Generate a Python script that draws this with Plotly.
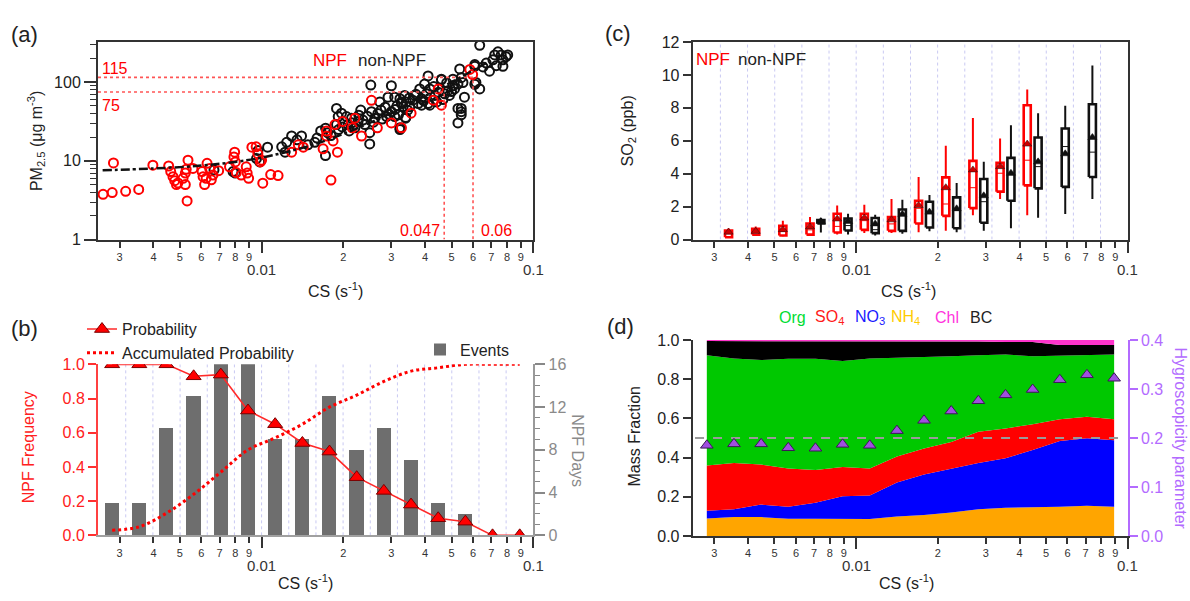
import numpy as np
import plotly.graph_objects as go

FONT = "Liberation Sans, Arial, Helvetica, sans-serif"
W, H = 1190, 601

# ---------------- panel (a): PM2.5 versus condensation sink ----------------
cs_npf = [0.00261, 0.00282, 0.00316, 0.00353, 0.00285, 0.00398, 0.00455, 0.00463, 0.00472,
          0.00479, 0.00486, 0.00492, 0.00524, 0.00532, 0.00514, 0.00524, 0.00528, 0.00536,
          0.00559, 0.00604, 0.00609, 0.00617, 0.00625, 0.0063, 0.00644, 0.00653, 0.00662,
          0.00695, 0.00762, 0.00796, 0.00791, 0.0080, 0.00807, 0.00841, 0.00878, 0.00885,
          0.00896, 0.00921, 0.00955, 0.00969, 0.0101, 0.0099, 0.0100, 0.0108, 0.0115,
          0.0129, 0.01365, 0.01424, 0.01684, 0.01733, 0.01733, 0.01833, 0.01902, 0.0180,
          0.01862, 0.01987, 0.02205, 0.02333, 0.02155, 0.02537, 0.02667, 0.03004, 0.03272,
          0.0355, 0.0428, 0.0447, 0.0459, 0.0584, 0.0598]
pm_npf = [3.76, 3.95, 4.1, 4.33, 9.4, 8.8, 8.6, 7.3, 6.3,
          5.6, 5.0, 5.25, 5.0, 3.1, 6.0, 7.0, 7.8, 10.2,
          8.0, 7.3, 6.3, 5.0, 6.0, 9.3, 8.0, 5.75, 6.6,
          7.5, 8.4, 12.9, 11.2, 9.7, 7.1, 6.6, 8.4, 7.0,
          6.0, 14.9, 15.1, 12.3, 5.2, 9.7, 10.2, 6.7, 6.5,
          12.9, 16.0, 14.9, 14.2, 20.7, 23.9, 17.9, 12.9, 5.7,
          28.9, 31.7, 34.9, 20.7, 26.3, 58.8, 26.3, 30.3, 26.3,
          40.3, 59.0, 82.0, 51.0, 145.0, 125.0]

cs_non = [0.00668, 0.00785, 0.0080, 0.00984, 0.00958, 0.0097, 0.01052, 0.01186, 0.0122,
          0.01237, 0.0129, 0.01403, 0.0157, 0.01718, 0.01748, 0.01887, 0.01914, 0.01887,
          0.01968, 0.02053, 0.02143, 0.0208, 0.02205, 0.02317, 0.02265, 0.02399, 0.025,
          0.025, 0.02523, 0.02537, 0.02611, 0.02723, 0.0275, 0.02884, 0.02919, 0.03004,
          0.03004, 0.0309, 0.03272, 0.0332, 0.0323, 0.0339, 0.041, 0.0459, 0.050,
          0.0506, 0.0528, 0.0543, 0.0543, 0.0536, 0.0551, 0.0609, 0.0609, 0.0635,
          0.0635, 0.0671, 0.069, 0.071, 0.0721, 0.0741, 0.0762, 0.0773, 0.0794,
          0.0773, 0.0805, 0.0653, 0.0731,
          0.0309, 0.0323, 0.0327, 0.0336, 0.0341, 0.0351, 0.036, 0.0366, 0.0377,
          0.0382, 0.0388, 0.0398, 0.0404, 0.0416, 0.0416, 0.0434, 0.0441, 0.0447,
          0.0459, 0.0472, 0.0485, 0.0491, 0.0506, 0.0513, 0.0528, 0.0543, 0.0558,
          0.0528, 0.0543, 0.0609, 0.0615, 0.0323, 0.0339, 0.0319, 0.0388, 0.041,
          0.0135, 0.0148, 0.0160, 0.0165, 0.0172, 0.0180, 0.0192, 0.0198, 0.0210,
          0.0215, 0.0228, 0.0236, 0.0245, 0.0258, 0.0268, 0.0278, 0.0285, 0.0295,
          0.0310, 0.0315, 0.0345, 0.0350, 0.0370, 0.0395, 0.0430, 0.0465, 0.0480]
pm_non = [7.65, 7.3, 7.0, 9.7, 10.7, 13.5, 14.9, 15.1, 12.9,
          17.2, 20.7, 20.7, 17.2, 11.7, 22.8, 46.4, 36.5, 28.9,
          40.3, 36.5, 34.9, 28.9, 26.3, 44.2, 31.7, 28.9, 16.4,
          22.8, 91.8, 42.2, 34.9, 56.0, 44.2, 36.5, 64.5, 42.2,
          90.0, 36.5, 56.0, 48.6, 25.0, 35.6, 120.0, 107.0, 76.0,
          90.0, 30.3, 46.4, 38.4, 147.0, 99.0, 167.0, 94.0, 82.0,
          294.0, 175.0, 138.0, 192.0, 222.0, 243.0, 222.0, 192.0, 211.0,
          159.0, 222.0, 156.0, 162.0,
          64.5, 61.7, 53.5, 67.8, 56.0, 48.6, 59.0, 67.8, 53.5,
          82.0, 61.7, 94.5, 71.0, 51.0, 82.0, 67.8, 56.0, 74.5,
          109.0, 71.0, 78.0, 67.8, 109.0, 82.0, 94.5, 114.0, 64.5,
          46.4, 42.2, 159.0, 99.0, 26.3, 34.9, 38.4, 51.0, 53.5,
          18.5, 16.0, 19.5, 24.0, 26.0, 21.0, 25.0, 27.0, 24.0,
          30.5, 38.0, 33.0, 37.0, 31.0, 40.0, 34.0, 48.0, 39.0,
          45.0, 50.0, 44.0, 63.0, 70.0, 58.0, 88.0, 60.0, 98.0]

fit_cs = [0.0026, 0.004, 0.006, 0.008, 0.010, 0.015, 0.020, 0.030, 0.040, 0.050, 0.060, 0.068]
fit_pm = [7.6, 8.0, 8.7, 9.7, 11.0, 15.5, 22.0, 40.5, 66.6, 100.0, 141.0, 180.0]

pm_limits = [115, 75]        # PM2.5 thresholds
cs_limits = [0.06, 0.047]    # CS at which the fit reaches them

# ---------------- shared CS bins (log spaced) ----------------
cs_bins = [0.002818, 0.003548, 0.004467, 0.005623, 0.007079, 0.008913, 0.01122, 0.01413,
           0.01778, 0.02239, 0.02818, 0.03548, 0.04467, 0.05623, 0.07079, 0.08913]
bin_edges = [0.003162, 0.003981, 0.005012, 0.00631, 0.007943, 0.01, 0.01259, 0.01585,
             0.01995, 0.02512, 0.03162, 0.03981, 0.05012, 0.0631, 0.07943]

# ---------------- panel (b): NPF frequency ----------------
npf_days = [3, 3, 10, 13, 16, 16, 9, 9, 13, 8, 10, 7, 3, 2, 0, 0]
npf_prob = [1.0, 1.0, 1.0, 0.93, 0.94, 0.73, 0.65, 0.54, 0.49, 0.34, 0.26, 0.18, 0.10, 0.08, 0.0, 0.0]
accum_prob = [0.03, 0.05, 0.13, 0.24, 0.37, 0.50, 0.57, 0.65, 0.75, 0.82, 0.90, 0.96, 0.98, 1.0, 1.0, 1.0]

# ---------------- panel (c): SO2 box statistics ----------------
npf_bins = cs_bins[1:13]
so2_npf_q1 = [0.14, 0.30, 0.25, 0.30, 0.43, 0.59, 0.53, 0.98, 1.44, 1.91, 2.91, 3.29]
so2_npf_med = [0.35, 0.45, 0.49, 0.59, 0.80, 1.15, 0.95, 1.90, 2.16, 3.15, 4.03, 4.82]
so2_npf_q3 = [0.55, 0.65, 0.84, 0.98, 1.57, 1.57, 1.37, 2.36, 3.78, 4.78, 4.66, 8.16]
so2_npf_lo = [0.12, 0.25, 0.20, 0.25, 0.30, 0.40, 0.40, 0.45, 0.53, 1.48, 2.46, 1.48]
so2_npf_hi = [0.69, 0.79, 1.14, 1.37, 2.07, 2.12, 2.46, 3.80, 5.70, 7.38, 6.14, 9.11]
so2_npf_mean = [0.45, 0.50, 0.60, 0.77, 1.25, 1.31, 1.20, 2.07, 3.15, 4.23, 4.43, 5.80]

non_bins = cs_bins[4:15]
so2_non_q1 = [0.98, 0.55, 0.39, 0.53, 0.73, 0.69, 1.02, 2.36, 3.11, 3.20, 3.80]
so2_non_med = [1.05, 0.85, 0.60, 1.45, 1.57, 1.77, 2.30, 3.93, 4.43, 5.65, 5.31]
so2_non_q3 = [1.18, 1.28, 1.31, 1.83, 2.30, 2.56, 3.68, 4.96, 6.20, 6.75, 8.22]
so2_non_lo = [0.43, 0.30, 0.25, 0.35, 0.50, 0.45, 0.53, 0.69, 1.32, 1.55, 2.46]
so2_non_hi = [1.31, 1.57, 1.50, 2.42, 2.70, 3.44, 4.72, 6.94, 7.67, 8.13, 10.58]
so2_non_mean = [1.10, 1.10, 0.95, 1.53, 1.67, 1.87, 2.66, 4.03, 4.72, 5.21, 6.20]

# ---------------- panel (d): chemical mass fractions and kappa ----------------
frac_nh4 = [.089, .096, .096, .088, .088, .088, .086, .099, .107, .119, .136, .144, .145, .149, .154, .149]
frac_no3 = [.040, .040, .064, .061, .081, .114, .121, .174, .207, .225, .236, .253, .293, .335, .345, .339]
frac_so4 = [.231, .236, .204, .195, .167, .150, .137, .132, .132, .135, .160, .152, .132, .111, .109, .107]
frac_org = [.562, .534, .534, .560, .568, .541, .562, .504, .466, .438, .390, .377, .347, .326, .314, .331]
frac_bc = [.073, .089, .097, .091, .091, .102, .089, .086, .080, .075, .070, .064, .073, .054, .053, .049]
frac_chl = [.005, .005, .005, .005, .005, .005, .005, .005, .008, .008, .008, .010, .010, .025, .025, .025]
kappa = [0.185, 0.188, 0.188, 0.180, 0.179, 0.187, 0.185, 0.215, 0.236, 0.255, 0.276, 0.288,
         0.299, 0.319, 0.329, 0.322]

# ---------------- axis tick labels ----------------
digit_vals = [0.003, 0.004, 0.005, 0.006, 0.007, 0.008, 0.009,
              0.02, 0.03, 0.04, 0.05, 0.06, 0.07, 0.08, 0.09]
digit_text = ["3", "4", "5", "6", "7", "8", "9", "2", "3", "4", "5", "6", "7", "8", "9"]
decade_vals = [0.01, 0.1]
decade_text = ["0.01", "0.1"]

RED = "#ff0000"
GRID = "#c9c9f2"


def px(v):
    return v / W


def py(v):
    return 1 - v / H


def cs_axis(dom, anchor, linecolor="#333333"):
    return dict(type="log", range=[np.log10(0.0025), -1], domain=dom, anchor=anchor,
                tickmode="array", tickvals=digit_vals, ticktext=digit_text,
                ticks="outside", ticklen=6, tickwidth=1.5, tickcolor="#333333",
                tickfont=dict(family=FONT, size=11, color="#333333"),
                minor=dict(tickmode="array", tickvals=decade_vals, ticks="outside",
                           ticklen=11, tickwidth=1.5, tickcolor="#333333", showgrid=False),
                showline=True, linecolor=linecolor, linewidth=2,
                showgrid=False, zeroline=False)


def box_paths(centers, q1, med, q3, lo, hi, shift, half):
    bx, by, wx, wy, mx, my, cx = [], [], [], [], [], [], []
    for c, a, m, b, l, h in zip(centers, q1, med, q3, lo, hi):
        xc = c * 10 ** shift
        xl, xr = xc * 10 ** -half, xc * 10 ** half
        bx += [xl, xr, xr, xl, xl, None]
        by += [a, a, b, b, a, None]
        wx += [xc, xc, None, xc, xc, None]
        wy += [b, h, None, a, l, None]
        mx += [xl, xr, None]
        my += [m, m, None]
        cx.append(xc)
    return bx, by, wx, wy, mx, my, cx


fig = go.Figure()

# ---- (a) ----
fig.add_trace(go.Scatter(x=cs_non, y=pm_non, mode="markers", xaxis="x", yaxis="y",
                         marker=dict(symbol="circle-open", size=9, color="#111111",
                                     line=dict(width=2)), showlegend=False))
fig.add_trace(go.Scatter(x=cs_npf, y=pm_npf, mode="markers", xaxis="x", yaxis="y",
                         marker=dict(symbol="circle-open", size=9, color=RED,
                                     line=dict(width=2)), showlegend=False))
for pm_v, cs_v in zip(pm_limits, cs_limits):
    fig.add_trace(go.Scatter(x=[0.0025, cs_v, cs_v], y=[pm_v, pm_v, 1], mode="lines",
                             xaxis="x", yaxis="y", showlegend=False,
                             line=dict(color="#ff5555", width=1.6, dash="dot")))
fig.add_trace(go.Scatter(x=fit_cs, y=fit_pm, mode="lines", xaxis="x", yaxis="y",
                         line=dict(color="#111111", width=2.5, dash="dashdot", shape="spline"),
                         showlegend=False))

# ---- (c) ----
gx, gy = [], []
for e in bin_edges:
    gx += [e, e, None]
    gy += [0, 12, None]
fig.add_trace(go.Scatter(x=gx, y=gy, mode="lines", xaxis="x2", yaxis="y2", showlegend=False,
                         line=dict(color=GRID, width=1, dash="dot")))

for bins, q1, med, q3, lo, hi, mean, col, shift, mcol in [
        (npf_bins, so2_npf_q1, so2_npf_med, so2_npf_q3, so2_npf_lo, so2_npf_hi, so2_npf_mean,
         RED, -0.02, "#cc0000"),
        (non_bins, so2_non_q1, so2_non_med, so2_non_q3, so2_non_lo, so2_non_hi, so2_non_mean,
         "#111111", 0.02, "#111111")]:
    bx, by, wx, wy, mx, my, cx = box_paths(bins, q1, med, q3, lo, hi, shift, 0.013)
    fig.add_trace(go.Scatter(x=wx, y=wy, mode="lines", xaxis="x2", yaxis="y2", showlegend=False,
                             line=dict(color=col, width=2)))
    fig.add_trace(go.Scatter(x=bx, y=by, mode="lines", xaxis="x2", yaxis="y2", showlegend=False,
                             line=dict(color=col, width=2.6)))
    fig.add_trace(go.Scatter(x=mx, y=my, mode="lines", xaxis="x2", yaxis="y2", showlegend=False,
                             line=dict(color=col, width=1)))
    fig.add_trace(go.Scatter(x=cx, y=mean, mode="markers", xaxis="x2", yaxis="y2",
                             showlegend=False,
                             marker=dict(symbol="triangle-up", size=8, color=mcol,
                                         line=dict(color="#111111", width=0.5))))

# ---- (b) ----
gx, gy = [], []
for e in bin_edges:
    gx += [e, e, None]
    gy += [0, 16, None]
fig.add_trace(go.Scatter(x=gx, y=gy, mode="lines", xaxis="x3", yaxis="y3", showlegend=False,
                         line=dict(color=GRID, width=1, dash="dot")))
bar_w = [c * (10 ** 0.026 - 10 ** -0.026) for c in cs_bins]
fig.add_trace(go.Bar(x=cs_bins, y=npf_days, width=bar_w, xaxis="x3", yaxis="y3",
                     marker=dict(color="#6e6e6e", line=dict(width=0)), name="Events",
                     legend="legend2"))
fig.add_trace(go.Scatter(x=cs_bins, y=npf_prob, mode="lines+markers", xaxis="x3", yaxis="y4",
                         name="Probability", legend="legend",
                         line=dict(color="#ff2a2a", width=1.6),
                         marker=dict(symbol="triangle-up", size=13, color=RED,
                                     line=dict(color="#7a0000", width=1))))
fig.add_trace(go.Scatter(x=cs_bins, y=accum_prob, mode="lines", xaxis="x3", yaxis="y4",
                         name="Accumulated Probability", legend="legend",
                         line=dict(color=RED, width=3, dash="dot", shape="spline")))

# ---- (d) ----
for vals, col in [(frac_nh4, "#ffa500"), (frac_no3, "#0000ff"), (frac_so4, "#ff0000"),
                  (frac_org, "#00c800"), (frac_bc, "#000000"), (frac_chl, "#ff33cc")]:
    fig.add_trace(go.Scatter(x=cs_bins, y=vals, stackgroup="mf", mode="lines",
                             xaxis="x4", yaxis="y5", showlegend=False,
                             line=dict(width=0, color=col), fillcolor=col))
fig.add_trace(go.Scatter(x=[0.00255, 0.095], y=[0.5, 0.5], mode="lines", xaxis="x4", yaxis="y5",
                         showlegend=False, line=dict(color="#9a9a9a", width=2.2, dash="dash")))
fig.add_trace(go.Scatter(x=cs_bins, y=kappa, mode="markers", xaxis="x4", yaxis="y6",
                         showlegend=False,
                         marker=dict(symbol="triangle-up", size=11, color="#a04ee0",
                                     line=dict(color="#3a1a55", width=1))))

# ---- axes ----
dom_top = [py(238.3), py(35)]
dom_b = [py(542.7), py(366.7)]
dom_d = [py(543.3), py(341.7)]
dom_left = [px(98), px(533.3)]
dom_right = [px(692.7), px(1127.7)]

ytick_font = dict(family=FONT, size=16, color="#222222")

xa = cs_axis(dom_left, "y")
xa["mirror"] = True
xc = cs_axis(dom_right, "y2")
xc["mirror"] = True

layout = dict(
    width=W, height=H, margin=dict(l=0, r=0, t=0, b=0),
    paper_bgcolor="white", plot_bgcolor="white",
    font=dict(family=FONT, color="#222222"),
    xaxis=xa,
    yaxis=dict(type="log", range=[0, 2.51], domain=dom_top, anchor="x",
               tickmode="array", tickvals=[1, 10, 100], ticktext=["1", "10", "100"],
               ticks="outside", ticklen=12, tickwidth=1.5, tickcolor="#333333",
               tickfont=ytick_font,
               minor=dict(tickmode="array",
                          tickvals=[2, 3, 4, 5, 6, 7, 8, 9, 20, 30, 40, 50, 60, 70, 80, 90, 200, 300],
                          ticks="outside", ticklen=6, tickwidth=1.2, tickcolor="#333333"),
               showline=True, linecolor="#333333", linewidth=2, mirror=True,
               showgrid=False, zeroline=False),
    xaxis2=xc,
    yaxis2=dict(range=[0, 12], domain=dom_top, anchor="x2", tickmode="array",
                tickvals=[0, 2, 4, 6, 8, 10, 12], ticks="outside", ticklen=8, tickwidth=1.5,
                tickcolor="#333333", tickfont=ytick_font, showline=True, linecolor="#333333",
                linewidth=2, mirror=True, showgrid=False, zeroline=False),
    xaxis3=cs_axis(dom_left, "y3", linecolor="#a0a0a0"),
    yaxis3=dict(range=[0, 16], domain=dom_b, anchor="x3", side="right", tickmode="array",
                tickvals=[0, 4, 8, 12, 16], ticks="outside", ticklen=10, tickwidth=1.5,
                tickcolor="#888888", tickfont=dict(family=FONT, size=16, color="#8a8a8a"),
                minor=dict(dtick=1, ticks="outside", ticklen=5, tickcolor="#888888", tickwidth=1),
                showline=True, linecolor="#999999", linewidth=2, showgrid=False, zeroline=False),
    yaxis4=dict(range=[0, 1], anchor="x3", overlaying="y3", side="left", tickmode="array",
                tickvals=[0, 0.2, 0.4, 0.6, 0.8, 1.0],
                ticktext=["0.0", "0.2", "0.4", "0.6", "0.8", "1.0"],
                ticks="outside", ticklen=8, tickwidth=1.5, tickcolor="#ff3030",
                tickfont=dict(family=FONT, size=16, color="#ff2020"),
                showline=True, linecolor="#ff4040", linewidth=2, showgrid=False, zeroline=False),
    xaxis4=cs_axis(dom_right, "y5"),
    yaxis5=dict(range=[0, 1], domain=dom_d, anchor="x4", tickmode="array",
                tickvals=[0, 0.2, 0.4, 0.6, 0.8, 1.0],
                ticktext=["0.0", "0.2", "0.4", "0.6", "0.8", "1.0"],
                ticks="outside", ticklen=8, tickwidth=1.5, tickcolor="#333333",
                tickfont=ytick_font, showline=True, linecolor="#333333", linewidth=2,
                showgrid=False, zeroline=False),
    yaxis6=dict(range=[0, 0.4], anchor="x4", overlaying="y5", side="right", tickmode="array",
                tickvals=[0, 0.1, 0.2, 0.3, 0.4], ticktext=["0.0", "0.1", "0.2", "0.3", "0.4"],
                ticks="outside", ticklen=8, tickwidth=1.5, tickcolor="#b36bff",
                tickfont=dict(family=FONT, size=16, color="#b36bff"),
                showline=True, linecolor="#b36bff", linewidth=2, showgrid=False, zeroline=False),
    legend=dict(x=px(82), y=py(313), xanchor="left", yanchor="top", bgcolor="rgba(0,0,0,0)",
                font=dict(family=FONT, size=16, color="#222222"), tracegroupgap=0,
                itemwidth=30, traceorder="normal"),
    legend2=dict(x=px(420), y=py(334), xanchor="left", yanchor="top", bgcolor="rgba(0,0,0,0)",
                 font=dict(family=FONT, size=16, color="#222222")),
    bargap=0,
)
fig.update_layout(**layout)

anns = []


def ann(text, x, y, size=16, color="#222222", xanchor="center", angle=0, xref="paper"):
    anns.append(dict(text=text, x=x if xref != "paper" else px(x), y=py(y), xref=xref,
                     yref="paper", xanchor=xanchor, yanchor="middle", showarrow=False,
                     textangle=angle, font=dict(family=FONT, size=size, color=color)))


# panel letters
ann("(a)", 24, 27, 22)
ann("(b)", 24, 330, 22)
ann("(c)", 618, 26, 22)
ann("(d)", 620, 328, 22)

# decade labels below the digit ticks
for xr_, ypos in [("x", 269), ("x2", 269), ("x3", 574), ("x4", 574)]:
    for v, t in zip(decade_vals, decade_text):
        ann(t, np.log10(v), ypos, 15, "#333333", xref=xr_)

# axis titles
cs_title = "CS (s<sup>-1</sup>)"
ann(cs_title, 335, 290, 16)
ann(cs_title, 908, 290, 16)
ann(cs_title, 306, 591, 16)
ann(cs_title, 906, 591, 16)
ann("PM<sub>2.5</sub> (μg m<sup>-3</sup>)", 36, 137, 16, angle=-90)
ann("SO<sub>2</sub> (ppb)", 628, 127, 16, angle=-90)
ann("NPF Frequency", 28, 452, 16, "#ff2020", angle=-90)
ann("NPF Days", 578, 455, 16, "#8a8a8a", angle=90)
ann("Mass Fraction", 635, 441, 16, angle=-90)
ann("Hygroscopicity parameter", 1181, 443, 16, "#b36bff", angle=90)

# (a) threshold labels
ann(str(pm_limits[0]), 100, 62, 16, RED, xanchor="left")
ann(str(pm_limits[1]), 100, 100, 16, RED, xanchor="left")
ann(str(cs_limits[1]), 442, 229, 16, RED, xanchor="right")
ann(str(cs_limits[0]), 479, 229, 16, RED, xanchor="left")

# group keys for (a) and (c)
ann("NPF", 311, 54, 17, RED, xanchor="left")
ann("non-NPF", 356, 54, 17, "#222222", xanchor="left")
ann("NPF", 694, 53, 17, RED, xanchor="left")
ann("non-NPF", 736, 53, 17, "#222222", xanchor="left")

# species key for (d)
for txt, x, col in [("Org", 777, "#00dd33"), ("SO<sub>4</sub>", 813, "#ff1a1a"),
                    ("NO<sub>3</sub>", 853, "#1a1aff"), ("NH<sub>4</sub>", 889, "#ffcc00"),
                    ("Chl", 933, "#ff33dd"), ("BC", 968, "#222222")]:
    ann(txt, x, 318, 16, col, xanchor="left")

fig.update_layout(annotations=anns)
fig.write_html("out.html")
